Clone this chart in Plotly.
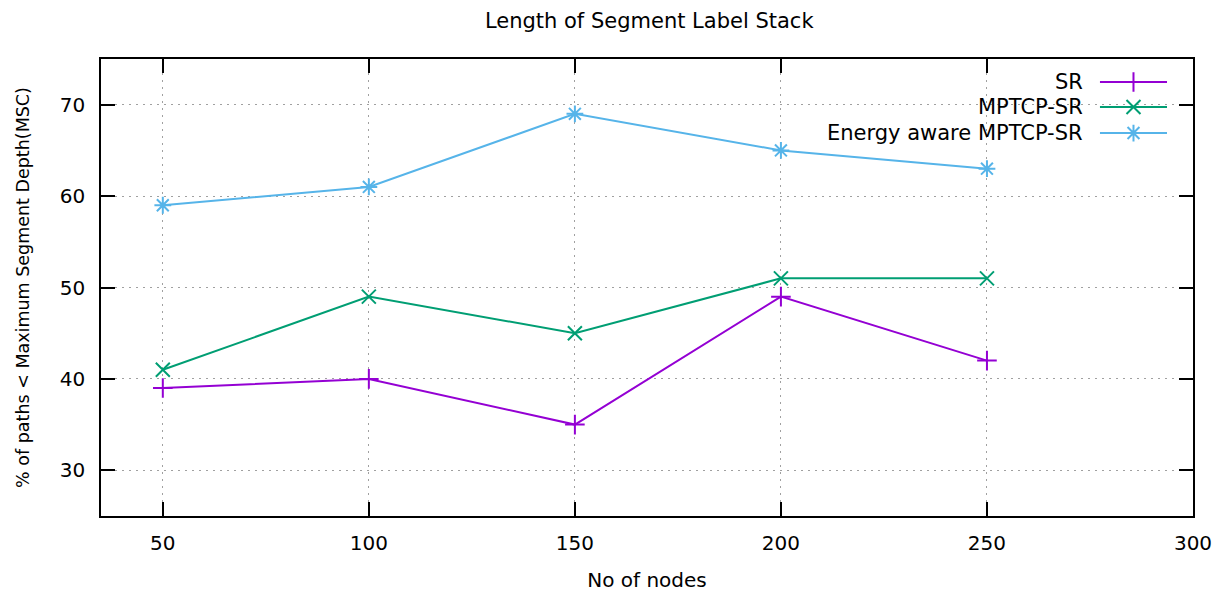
import plotly.graph_objects as go

# Number of nodes in the network
nodes = [50, 100, 150, 200, 250]

# % of paths whose label stack is below the maximum segment depth
series_names = ["SR", "MPTCP-SR", "Energy aware MPTCP-SR"]
sr = [39, 40, 35, 49, 42]
mptcp_sr = [41, 49, 45, 51, 51]
energy_mptcp_sr = [59, 61, 69, 65, 63]

x_ticks = [50, 100, 150, 200, 250, 300]
y_ticks = [30, 40, 50, 60, 70]

colors = ["#9400d3", "#009e73", "#56b4e9"]
symbols = ["cross-thin", "x-thin", "asterisk-open"]
values = [sr, mptcp_sr, energy_mptcp_sr]

FONT = "DejaVu Sans"
FS = 20

fig = go.Figure()

for name, vals, col, sym in zip(series_names, values, colors, symbols):
    fig.add_trace(go.Scatter(
        x=nodes, y=vals, name=name, mode="lines+markers",
        line=dict(color=col, width=2),
        marker=dict(symbol=sym, size=14, color=col,
                    line=dict(color=col, width=2)),
        showlegend=False,
    ))

# gnuplot-style key: right-aligned labels with line samples, on an opaque box
key_rows = [0.9497, 0.895, 0.838]
line_x0, line_x1 = 0.9148, 0.9762
shapes = [dict(type="rect", xref="paper", yref="paper",
               x0=0.640, x1=0.998, y0=0.8074, y1=0.998,
               fillcolor="white", line=dict(width=0), layer="between")]
annotations = []
for name, col, yk in zip(series_names, colors, key_rows):
    shapes.append(dict(type="line", xref="paper", yref="paper",
                       x0=line_x0, x1=line_x1, y0=yk, y1=yk,
                       line=dict(color=col, width=2)))
    annotations.append(dict(xref="paper", yref="paper", x=0.9011, y=yk,
                            text=name, showarrow=False, xanchor="right",
                            yanchor="middle",
                            font=dict(family=FONT, size=FS + 1, color="black")))

fig.add_trace(go.Scatter(
    x=[(line_x0 + line_x1) / 2] * 3, y=key_rows, mode="markers",
    xaxis="x2", yaxis="y2", hoverinfo="skip", showlegend=False,
    marker=dict(symbol=symbols, size=14, color=colors,
                line=dict(color=colors, width=2)),
))

axis_common = dict(
    showline=True, linecolor="black", linewidth=1.5, mirror="ticks",
    ticks="inside", ticklen=14, tickwidth=1.5, tickcolor="black",
    showgrid=True, gridcolor="#a0a0a0", griddash="2px,5px", gridwidth=1,
    zeroline=False, automargin=False,
    tickfont=dict(family=FONT, size=FS, color="black"),
)

fig.update_layout(
    width=1225, height=592,
    paper_bgcolor="white", plot_bgcolor="white",
    margin=dict(l=101, r=32, t=59, b=76),
    title=dict(text="Length of Segment Label Stack", x=0.53, xanchor="center",
               y=0.965, yanchor="middle",
               font=dict(family=FONT, size=FS + 1, color="black")),
    xaxis=dict(range=[35, 300], tickvals=x_ticks, ticklabelstandoff=8,
               title=dict(text="No of nodes", standoff=25,
                          font=dict(family=FONT, size=FS, color="black")),
               **axis_common),
    yaxis=dict(range=[25, 75], tickvals=y_ticks, ticklabelstandoff=10,
               title=dict(text="% of paths < Maximum Segment Depth(MSC)",
                          standoff=26,
                          font=dict(family=FONT, size=17.5, color="black")),
               **axis_common),
    xaxis2=dict(range=[0, 1], overlaying="x", visible=False, fixedrange=True),
    yaxis2=dict(range=[0, 1], overlaying="y", visible=False, fixedrange=True),
    shapes=shapes,
    annotations=annotations,
)

fig.write_html("out.html")
